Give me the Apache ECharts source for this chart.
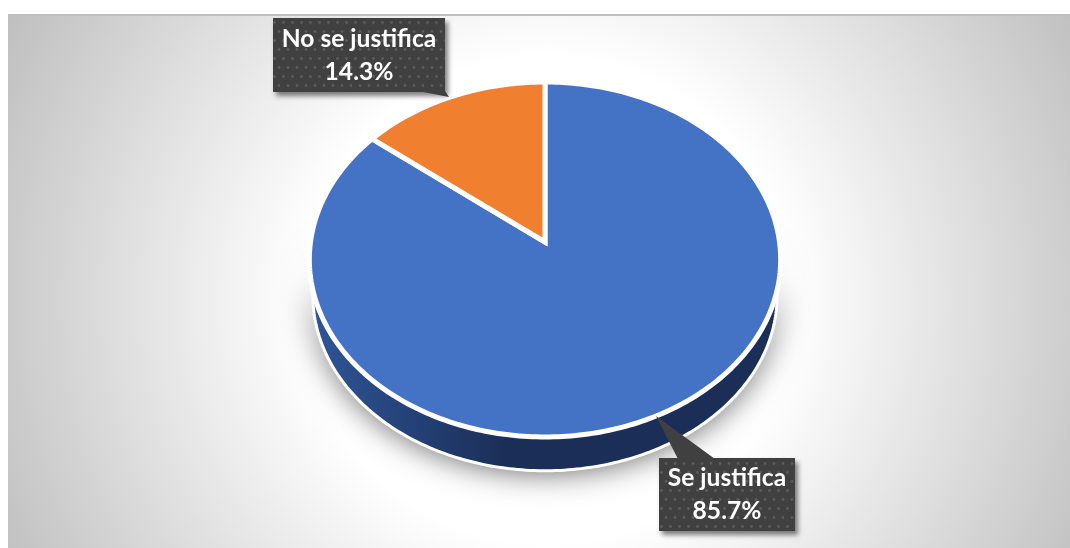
<!DOCTYPE html>
<html>
<head>
<meta charset="utf-8">
<style>html,body{margin:0;padding:0;background:#fff}#c{width:1070px;height:548px}</style>
<script src="https://cdn.jsdelivr.net/npm/echarts@6/dist/echarts.min.js"></script>
</head>
<body>
<div id="c"></div>
<script>
const categories = ['Se justifica', 'No se justifica'];
const percentValues = [85.7, 14.3];
const sliceColors = ['#4472C4', '#F07F30'];

// Tilted-disc projection: unit circle -> screen, with perspective
const cx = 545, apexY = 242, tiltA = -151.9, tiltC = 0.0986, radX = 234.5;
function project(angle, dy, scale) {
  const s = scale || 1;
  const u = Math.sin(angle) * s, v = Math.cos(angle) * s;
  const d = tiltC * v + 1;
  return [cx + radX * u / d, (tiltA * v + apexY) / d + (dy || 0)];
}
function arcPoints(a0, a1, dy, scale) {
  const pts = [], n = Math.max(8, Math.ceil(Math.abs(a1 - a0) * 60));
  for (let i = 0; i <= n; i++) pts.push(project(a0 + (a1 - a0) * i / n, dy, scale));
  return pts;
}
const total = percentValues.reduce((a, b) => a + b, 0);
const toAngle = v => v / total * Math.PI * 2;

function dotPattern() {
  const p = document.createElement('canvas');
  p.width = 18; p.height = 18;
  const g = p.getContext('2d');
  g.fillStyle = '#404040'; g.fillRect(0, 0, 18, 18);
  g.fillStyle = '#5c5c5c';
  [[4.5, 4.5], [13.5, 4.5], [0, 13.5], [9, 13.5], [18, 13.5]].forEach(q => {
    g.beginPath(); g.arc(q[0], q[1], 1.4, 0, Math.PI * 2); g.fill();
  });
  return p;
}
const pattern = { image: dotPattern(), repeat: 'repeat' };

const calloutGeom = [
  { box: [659, 458, 136, 73], tip: [[656, 416], [678, 459], [715, 459]] },
  { box: [273, 18, 172, 74], tip: [[449, 97], [445, 91], [418, 91]] }
];

const chart = echarts.init(document.getElementById('c'), null, { renderer: 'canvas' });
chart.setOption({
  animation: false,
  backgroundColor: '#ffffff',
  graphic: [
    { type: 'rect', z: -10, shape: { x: 8, y: 15, width: 1062, height: 533 },
      style: { fill: { type: 'radial', x: 0.507, y: 0.535, r: 1.17,
        colorStops: [{ offset: 0, color: '#ffffff' }, { offset: 0.39, color: '#ffffff' }, { offset: 1, color: '#bcbcbc' }] } } },
    { type: 'rect', z: -9, shape: { x: 8, y: 14, width: 1062, height: 2 }, style: { fill: '#bfbfbf' } }
  ],
  series: [
    { // extruded rim of the disc
      type: 'custom', coordinateSystem: 'none', z: 1, data: [0],
      renderItem() {
        const start = Math.PI * 0.5, end = Math.PI * 1.5;
        const rim = arcPoints(start - 0.02, end + 0.02, 37, 0.985);
        const top = arcPoints(end, start, 0, 0.985);
        const pts = rim.concat(top);
        return {
          type: 'group', children: [
            { type: 'polygon', shape: { points: pts },
              style: { fill: '#fff', shadowBlur: 30, shadowColor: 'rgba(0,0,0,0.6)', shadowOffsetY: 2 } },
            { type: 'polygon', shape: { points: pts },
              style: { stroke: '#fff', lineWidth: 3,
                fill: { type: 'linear', x: 0, y: 0, x2: 1, y2: 0, colorStops: [
                  { offset: 0, color: '#2F5597' }, { offset: 0.42, color: '#1B2E57' },
                  { offset: 1, color: '#1B2E57' }] } } }
          ]
        };
      }
    },
    { // slices
      type: 'custom', coordinateSystem: 'none', z: 2, data: percentValues,
      renderItem(params, api) {
        let a0 = 0;
        for (let i = 0; i < params.dataIndex; i++) a0 += toAngle(percentValues[i]);
        const a1 = a0 + toAngle(api.value(0));
        const pts = [[cx, apexY]].concat(arcPoints(a0, a1, 0));
        return { type: 'polygon', shape: { points: pts },
          style: { fill: sliceColors[params.dataIndex], stroke: '#fff', lineWidth: 5, lineJoin: 'miter' } };
      }
    },
    { // callouts
      type: 'custom', coordinateSystem: 'none', z: 3, data: percentValues,
      renderItem(params, api) {
        const g = calloutGeom[params.dataIndex], b = g.box;
        return { type: 'group', children: [
          { type: 'rect', shape: { x: b[0], y: b[1], width: b[2], height: b[3] },
            style: { fill: pattern, shadowBlur: 5, shadowColor: 'rgba(0,0,0,0.5)', shadowOffsetX: 3, shadowOffsetY: 4 } },
          { type: 'polygon', shape: { points: g.tip }, style: { fill: '#404040' } },
          { type: 'text', style: {
              text: categories[params.dataIndex] + '\n' + api.value(0).toFixed(1) + '%',
              x: b[0] + b[2] / 2, y: b[1] + b[3] / 2 + 0.5, align: 'center', verticalAlign: 'middle',
              fill: '#fff', font: 'bold 24.6px Lato, "Open Sans", sans-serif', lineHeight: 33 } }
        ] };
      }
    }
  ]
});
</script>
</body>
</html>
